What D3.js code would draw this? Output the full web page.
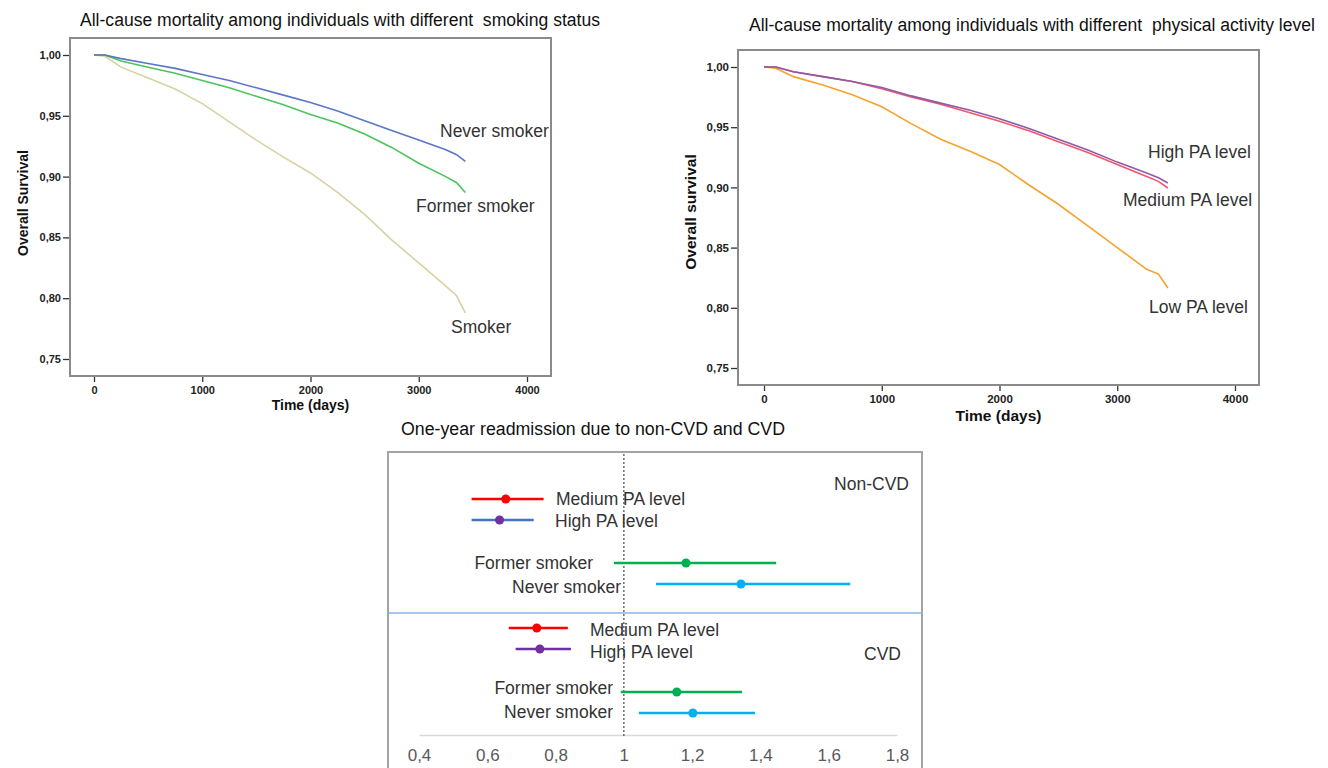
<!DOCTYPE html>
<html>
<head>
<meta charset="utf-8">
<script src="https://cdn.jsdelivr.net/npm/d3@7"></script>
<style>
  body { margin: 0; background: #fff; }
  svg { display: block; }
</style>
</head>
<body>
<div id="chart"></div>
<script>
// Kaplan-Meier curves, values (days -> overall survival)
var kmDays = [0, 100, 250, 500, 750, 1000, 1250, 1500, 1750, 2000, 2250, 2500, 2750, 3000, 3250, 3350, 3430];

var neverSmoker  = [1.000, 1.000, 0.997, 0.993, 0.989, 0.984, 0.979, 0.973, 0.967, 0.961, 0.954, 0.946, 0.938, 0.930, 0.922, 0.918, 0.9125];
var formerSmoker = [1.000, 1.000, 0.995, 0.990, 0.985, 0.979, 0.973, 0.966, 0.959, 0.951, 0.944, 0.935, 0.924, 0.911, 0.900, 0.895, 0.887];
var smoker       = [1.000, 0.999, 0.990, 0.981, 0.972, 0.960, 0.945, 0.930, 0.916, 0.903, 0.887, 0.869, 0.848, 0.829, 0.810, 0.802, 0.788];

var highPA   = [1.000, 1.000, 0.996, 0.992, 0.988, 0.983, 0.976, 0.970, 0.964, 0.957, 0.949, 0.940, 0.931, 0.921, 0.912, 0.908, 0.9037];
var mediumPA = [1.000, 1.000, 0.996, 0.992, 0.988, 0.982, 0.975, 0.969, 0.962, 0.955, 0.947, 0.938, 0.929, 0.919, 0.909, 0.905, 0.8995];
var lowPA    = [1.000, 0.999, 0.992, 0.985, 0.977, 0.967, 0.953, 0.940, 0.930, 0.919, 0.902, 0.886, 0.868, 0.850, 0.832, 0.828, 0.8165];

var kmYTicks = [0.75, 0.80, 0.85, 0.90, 0.95, 1.00];
var kmXTicks = [0, 1000, 2000, 3000, 4000];

// forest plot: odds ratios with 95% CI
var forestLabels = ["Medium PA level", "High PA level", "Former smoker", "Never smoker"];
var nonCvdEst  = [0.654, 0.636, 1.182, 1.343];
var nonCvdLow  = [0.554, 0.554, 0.971, 1.094];
var nonCvdHigh = [0.765, 0.736, 1.446, 1.663];
var cvdEst  = [0.745, 0.754, 1.155, 1.202];
var cvdLow  = [0.663, 0.683, 0.991, 1.044];
var cvdHigh = [0.836, 0.845, 1.346, 1.384];
var forestTicks = [0.4, 0.6, 0.8, 1.0, 1.2, 1.4, 1.6, 1.8];

var comma = d3.formatLocale({decimal: ",", thousands: "", grouping: [3], currency: ["", ""]});

var svg = d3.select("#chart")
    .append("svg")
    .attr("width", 1328)
    .attr("height", 768);

var font = "'Liberation Sans', Arial, sans-serif";

function kmPanel(cfg) {
    var g = svg.append("g");

    var x = d3.scaleLinear().domain([0, 4000]).range(cfg.xRange);
    var y = d3.scaleLinear().domain([0.75, 1]).range(cfg.yRange);
    var f = cfg.frame;

    // title
    g.append("text")
        .attr("x", cfg.title.x)
        .attr("y", cfg.title.y)
        .attr("dominant-baseline", "central")
        .attr("textLength", cfg.title.w)
        .attr("lengthAdjust", "spacingAndGlyphs")
        .style("white-space", "pre")
        .style("font-family", font)
        .style("font-size", "18px")
        .attr("fill", "#111")
        .text(cfg.title.text);

    g.append("rect")
        .attr("x", f[0]).attr("y", f[1])
        .attr("width", f[2] - f[0]).attr("height", f[3] - f[1])
        .attr("fill", "none")
        .attr("stroke", "#8a8a8a")
        .attr("stroke-width", 2);

    var yAxis = g.append("g")
        .attr("transform", "translate(" + (f[0] - 1) + ",0)")
        .call(d3.axisLeft(y).tickValues(kmYTicks).tickSize(6).tickPadding(2)
            .tickFormat(comma.format(".2f")));
    var xAxis = g.append("g")
        .attr("transform", "translate(0," + (f[3] + 1) + ")")
        .call(d3.axisBottom(x).tickValues(kmXTicks).tickSize(5).tickPadding(4)
            .tickFormat(d3.format("d")));

    [yAxis, xAxis].forEach(function (a) {
        a.select(".domain").remove();
        a.selectAll("line").attr("stroke", "#333").attr("stroke-width", 1.3);
        a.selectAll("text")
            .attr("fill", "#222")
            .style("font-family", font)
            .style("font-weight", "bold")
            .style("font-size", cfg.tickSize);
    });

    g.append("text")
        .attr("x", (f[0] + f[2]) / 2 + cfg.xTitleShift)
        .attr("y", cfg.xTitleY)
        .attr("text-anchor", "middle")
        .attr("dominant-baseline", "central")
        .style("font-family", font)
        .style("font-weight", "bold")
        .style("font-size", cfg.axisTitleSize)
        .attr("fill", "#111")
        .text("Time (days)");

    g.append("text")
        .attr("transform", "translate(" + cfg.yTitleX + "," + cfg.yTitleY + ")rotate(-90)")
        .attr("text-anchor", "middle")
        .attr("dominant-baseline", "central")
        .style("font-family", font)
        .style("font-weight", "bold")
        .style("font-size", cfg.axisTitleSize)
        .attr("fill", "#111")
        .text(cfg.yTitle);

    var line = d3.line()
        .x(function (d) { return x(d[0]); })
        .y(function (d) { return y(d[1]); });

    cfg.series.forEach(function (s) {
        g.append("path")
            .datum(d3.zip(kmDays, s.values))
            .attr("fill", "none")
            .attr("stroke", s.color)
            .attr("stroke-width", 1.6)
            .attr("d", line);
    });

    cfg.series.forEach(function (s) {
        g.append("text")
            .attr("x", s.lx)
            .attr("y", s.ly)
            .attr("dominant-baseline", "central")
            .style("font-family", font)
            .style("font-size", "17.5px")
            .attr("fill", "#333")
            .text(s.label);
    });
}

kmPanel({
    xRange: [94, 527], yRange: [359, 55], frame: [70, 38, 551, 376],
    title: {x: 80, y: 20, w: 520, text: "All-cause mortality among individuals with different  smoking status"},
    yTitle: "Overall Survival", yTitleX: 23, yTitleY: 203,
    xTitleY: 405, xTitleShift: 0,
    tickSize: "11px", axisTitleSize: "14px",
    series: [
        {values: smoker, color: "#d8d2a2", label: "Smoker", lx: 451, ly: 327},
        {values: formerSmoker, color: "#4cc35c", label: "Former smoker", lx: 416, ly: 206},
        {values: neverSmoker, color: "#5b76c8", label: "Never smoker", lx: 440, ly: 131}
    ]
});

kmPanel({
    xRange: [764, 1235], yRange: [368, 67], frame: [738, 50, 1259, 385],
    title: {x: 749, y: 25, w: 566, text: "All-cause mortality among individuals with different  physical activity level"},
    yTitle: "Overall survival", yTitleX: 690, yTitleY: 212,
    xTitleY: 415, xTitleShift: 0,
    tickSize: "11.5px", axisTitleSize: "15.5px",
    series: [
        {values: lowPA, color: "#f6a22f", label: "Low PA level", lx: 1149, ly: 307},
        {values: mediumPA, color: "#f0576c", label: "Medium PA level", lx: 1123, ly: 200},
        {values: highPA, color: "#8f5aa8", label: "High PA level", lx: 1148, ly: 152}
    ]
});

// ---------- forest plot ----------
function forestPlot() {
    var g = svg.append("g");
    var x = d3.scaleLinear().domain([0.4, 1.8]).range([419, 897]);

    g.append("text")
        .attr("x", 401).attr("y", 429)
        .attr("dominant-baseline", "central")
        .attr("textLength", 384)
        .attr("lengthAdjust", "spacingAndGlyphs")
        .style("font-family", font)
        .style("font-size", "18px")
        .attr("fill", "#111")
        .text("One-year readmission due to non-CVD and CVD");

    g.append("rect")
        .attr("x", 388).attr("y", 452)
        .attr("width", 534).attr("height", 340)
        .attr("fill", "none")
        .attr("stroke", "#a3a3a3")
        .attr("stroke-width", 2);

    g.append("line")
        .attr("x1", 388).attr("x2", 922)
        .attr("y1", 613).attr("y2", 613)
        .attr("stroke", "#8db3e2")
        .attr("stroke-width", 1.5);

    // axis
    var axis = g.append("g")
        .attr("transform", "translate(0,735)")
        .call(d3.axisBottom(x).tickValues(forestTicks).tickSize(0).tickPadding(14)
            .tickFormat(comma.format(".1~f")));
    axis.select(".domain").attr("stroke", "#d9d9d9").attr("stroke-width", 1.5);
    axis.selectAll("text")
        .attr("fill", "#595959")
        .style("font-family", font)
        .style("font-size", "17px");

    g.append("line")
        .attr("x1", x(1)).attr("x2", x(1))
        .attr("y1", 454).attr("y2", 738)
        .attr("stroke", "#555")
        .attr("stroke-width", 1.3)
        .attr("stroke-dasharray", "2,2");

    var groups = [
        {est: nonCvdEst, lo: nonCvdLow, hi: nonCvdHigh, top: 499,
         lineColors: ["#ff0000", "#4472c4", "#00b050", "#00b0f0"],
         dotColors: ["#ff0000", "#7030a0", "#00b050", "#00b0f0"],
         labelX: [556, 555, 593, 621], anchor: ["start", "start", "end", "end"],
         labelDy: [0, 1, 0, 3],
         name: "Non-CVD", nameX: 909, nameY: 484},
        {est: cvdEst, lo: cvdLow, hi: cvdHigh, top: 628,
         lineColors: ["#ff0000", "#7030a0", "#00b050", "#00b0f0"],
         dotColors: ["#ff0000", "#7030a0", "#00b050", "#00b0f0"],
         labelX: [590, 590, 613, 613], anchor: ["start", "start", "end", "end"],
         labelDy: [2, 3, -4, -1],
         name: "CVD", nameX: 901, nameY: 654}
    ];
    var rowOffset = [0, 21, 64, 85];

    groups.forEach(function (grp) {
        forestLabels.forEach(function (lab, i) {
            var yy = grp.top + rowOffset[i];
            g.append("line")
                .attr("x1", x(grp.lo[i])).attr("x2", x(grp.hi[i]))
                .attr("y1", yy).attr("y2", yy)
                .attr("stroke", grp.lineColors[i])
                .attr("stroke-width", 2.5);
            g.append("circle")
                .attr("cx", x(grp.est[i])).attr("cy", yy)
                .attr("r", 4.5)
                .attr("fill", grp.dotColors[i]);
            g.append("text")
                .attr("x", grp.labelX[i])
                .attr("y", yy + grp.labelDy[i])
                .attr("text-anchor", grp.anchor[i])
                .attr("dominant-baseline", "central")
                .style("font-family", font)
                .style("font-size", "17.5px")
                .attr("fill", "#333")
                .text(lab);
        });
        g.append("text")
            .attr("x", grp.nameX).attr("y", grp.nameY)
            .attr("text-anchor", "end")
            .attr("dominant-baseline", "central")
            .style("font-family", font)
            .style("font-size", "17.5px")
            .attr("fill", "#333")
            .text(grp.name);
    });
}

forestPlot();
</script>
</body>
</html>
